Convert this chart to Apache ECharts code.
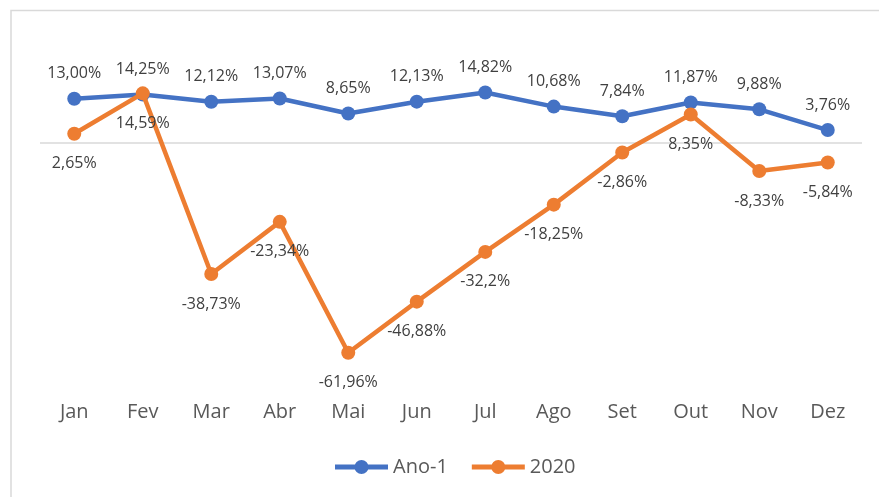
<!DOCTYPE html>
<html>
<head>
<meta charset="utf-8">
<script src="https://cdn.jsdelivr.net/npm/echarts@6/dist/echarts.min.js"></script>
<style>
  html, body { margin: 0; padding: 0; background: #fff; }
  #chart { width: 879px; height: 497px; }
</style>
</head>
<body>
<div id="chart"></div>
<script>
const months = ["Jan", "Fev", "Mar", "Abr", "Mai", "Jun", "Jul", "Ago", "Set", "Out", "Nov", "Dez"];
const ano1 = [13.00, 14.25, 12.12, 13.07, 8.65, 12.13, 14.82, 10.68, 7.84, 11.87, 9.88, 3.76];
const ano2020 = [2.65, 14.59, -38.73, -23.34, -61.96, -46.88, -32.2, -18.25, -2.86, 8.35, -8.33, -5.84];
// rótulos como aparecem no gráfico original
const ano1Labels = ["13,00%", "14,25%", "12,12%", "13,07%", "8,65%", "12,13%", "14,82%", "10,68%", "7,84%", "11,87%", "9,88%", "3,76%"];
const ano2020Labels = ["2,65%", "14,59%", "-38,73%", "-23,34%", "-61,96%", "-46,88%", "-32,2%", "-18,25%", "-2,86%", "8,35%", "-8,33%", "-5,84%"];

const font = "'Open Sans', sans-serif";
// ícone da legenda: linha grossa com círculo no meio (estilo Excel)
const legendIcon = "path://M0,4.5L53,4.5L53,9.5L0,9.5Z M19.5,7A7,7 0 1 1 33.5,7A7,7 0 1 1 19.5,7Z";
const chart = echarts.init(document.getElementById("chart"));

chart.setOption({
  animation: false,
  textStyle: { fontFamily: font },
  graphic: [{
    type: "rect",
    shape: { x: 11, y: 10.5, width: 900, height: 520 },
    style: { fill: "none", stroke: "#d9d9d9", lineWidth: 1.5 },
    silent: true
  }],
  grid: { left: 40, right: 17, top: 75, bottom: 117 },
  legend: {
    left: 330,
    top: 452,
    itemWidth: 53,
    itemHeight: 14,
    itemGap: 24,
    icon: legendIcon,
    textStyle: { fontSize: 20, color: "#595959", fontFamily: font },
    data: ["Ano-1", "2020"]
  },
  xAxis: {
    type: "category",
    data: months,
    boundaryGap: true,
    axisLine: { show: false },
    axisTick: { show: false },
    axisLabel: { color: "#595959", fontSize: 20, margin: 22, lineHeight: 20, fontFamily: font }
  },
  yAxis: {
    type: "value",
    min: -70,
    max: 20,
    show: false,
    splitLine: { show: false }
  },
  series: [
    {
      name: "Ano-1",
      type: "line",
      data: ano1,
      color: "#4472C4",
      symbol: "circle",
      symbolSize: 14,
      lineStyle: { width: 4.5 },
      label: {
        show: true,
        position: "top",
        distance: 10,
        fontSize: 16,
        color: "#404040",
        fontFamily: font,
        formatter: p => ano1Labels[p.dataIndex]
      },
      z: 3
    },
    {
      name: "2020",
      type: "line",
      data: ano2020,
      color: "#ED7D31",
      symbol: "circle",
      symbolSize: 14,
      lineStyle: { width: 4.5 },
      label: {
        show: true,
        position: "bottom",
        distance: 15,
        fontSize: 16,
        color: "#404040",
        fontFamily: font,
        formatter: p => ano2020Labels[p.dataIndex]
      },
      markLine: {
        silent: true,
        symbol: "none",
        label: { show: false },
        lineStyle: { color: "#d9d9d9", width: 1.5, type: "solid" },
        data: [{ yAxis: 0 }],
        z: 1
      },
      z: 4
    }
  ]
});
</script>
</body>
</html>
